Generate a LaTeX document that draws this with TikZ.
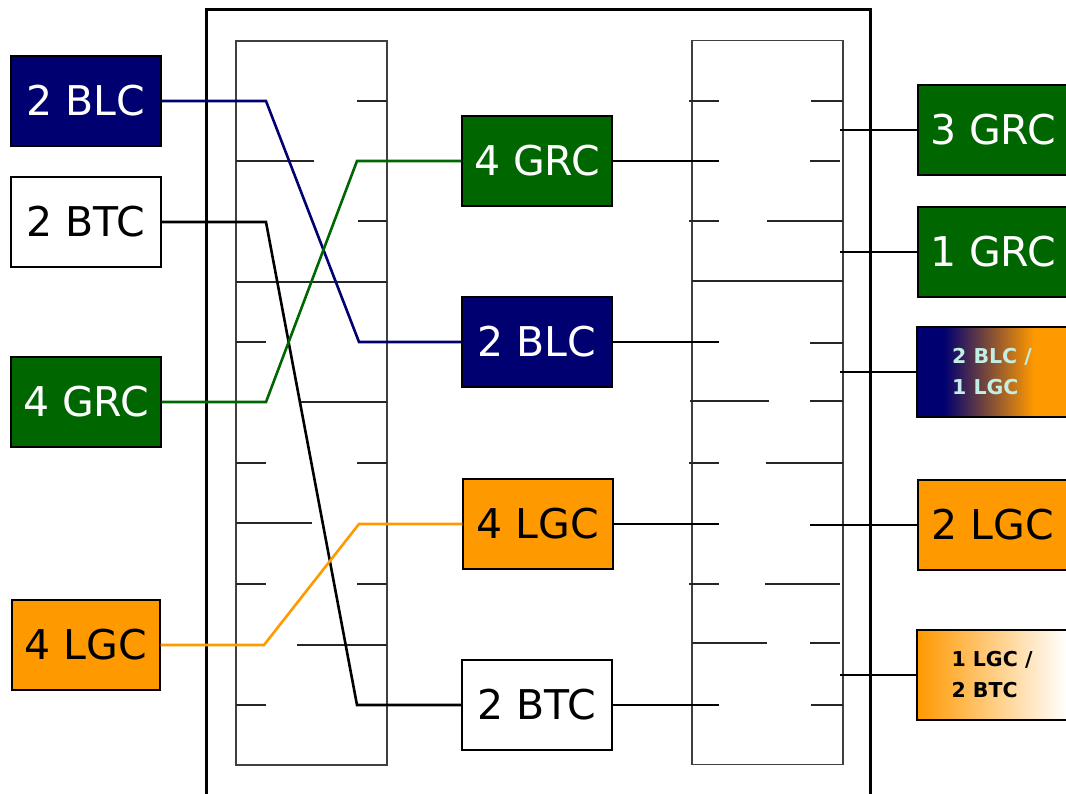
\documentclass[tikz,border=0pt]{standalone}
\usepackage{fontspec}
\setmainfont{DejaVu Sans}
\usepackage{tikz}
\usetikzlibrary{positioning}
\usepackage{xcolor}
\definecolor{blcblue}{RGB}{0,0,112}
\definecolor{grcgreen}{RGB}{0,102,0}
\definecolor{lgcorange}{RGB}{255,153,0}
\definecolor{mixtext}{RGB}{195,238,228}
\pgfdeclarehorizontalshading{blctolgc}{100bp}{color(0bp)=(blcblue); color(34bp)=(blcblue); color(64bp)=(lgcorange); color(100bp)=(lgcorange)}
\tikzset{
	unit/.style={rectangle, draw=black, line width=1.4pt,
		minimum width=150pt, minimum height=90pt, inner sep=0pt,
		font=\fontsize{41}{41}\selectfont},
	blc/.style={unit, fill=blcblue, text=white},
	grc/.style={unit, fill=grcgreen, text=white},
	lgc/.style={unit, fill=lgcorange, text=black},
	btc/.style={unit, fill=white, text=black},
	mixed/.style={unit, align=left,
		font=\bfseries\fontsize{20.5}{31}\selectfont},
	panel/.style={rectangle, draw=black!75, line width=1.3pt,
		minimum width=151pt, minimum height=724pt, inner sep=0pt},
	frame/.style={draw=black, line width=3pt},
	wire/.style={line width=2.6pt},
	tick/.style={draw=black!85, line width=1.3pt},
	link/.style={draw=black, line width=1.3pt}
}

\begin{document}
\begin{tikzpicture}[x=1pt, y=-1pt]
			\clip (0,0) rectangle (1066,794);
			
			%% outer frame and the two switch panels
			\draw[frame] (206,10) rectangle (870,820);
			\node[panel] (lpanel) at (311.5,403) {};
			\node[panel] (rpanel) at (767.5,402.5) {};
			
			%% left panel ticks
			\draw[tick] (357,101) -- (387,101) (236,161) -- (314,161)
			(358,221) -- (387,221) (236,282) -- (387,282)
			(236,342) -- (266,342) (301,402) -- (387,402)
			(236,463) -- (266,463) (357,463) -- (387,463)
			(236,523) -- (312,523) (236,584) -- (266,584)
			(357,584) -- (387,584) (297,645) -- (387,645)
			(236,705) -- (266,705);
			
			%% right panel ticks
			\draw[tick] (689,101) -- (719,101) (811,101) -- (843,101)
			(692,161) -- (719,161) (810,161) -- (840,161)
			(689,221) -- (719,221) (767,221) -- (843,221)
			(692,281) -- (843,281) (810,343) -- (843,343)
			(690,401) -- (769,401) (810,401) -- (843,401)
			(689,463) -- (719,463) (766,463) -- (843,463)
			(689,584) -- (719,584) (765,584) -- (840,584)
			(692,643) -- (767,643) (810,643) -- (840,643)
			(811,705) -- (843,705);
			
			%% input units
			\node[blc] (lblc) at (86,101) {2 BLC};
			\node[btc] (lbtc) at (86,222) {2 BTC};
			\node[grc] (lgrc) at (86,402) {4 GRC};
			\node[lgc, minimum width=148pt] (llgc) at (86,645) {4 LGC};
			
			%% middle units
			\node[grc] (mgrc) at (537,161) {4 GRC};
			\node[blc] (mblc) at (537,342) {2 BLC};
			\node[lgc] (mlgc) at (538,524) {4 LGC};
			\node[btc] (mbtc) at (537,705) {2 BTC};
			
			%% output units
			\node[grc] (rgrc3) at (993,130) {3 GRC};
			\node[grc] (rgrc1) at (993,252) {1 GRC};
			\node[mixed, shading=blctolgc, text=mixtext] (rmixa) at (992,372)
			{2 BLC /\\1 LGC};
			\node[mixed, left color=lgcorange, right color=white, text=black]
			(rmixb) at (992,675) {1 LGC /\\2 BTC};
			\node[lgc] (rlgc) at (993,525) {2 LGC};
			
			%% crossing wires
			\draw[wire, blcblue] (lblc) -- (266,101) -- (359,342) -- (mblc);
			\draw[wire, black] (lbtc) -- (266,222) -- (357,705) -- (mbtc);
			\draw[wire, grcgreen] (lgrc) -- (266,402) -- (357,161) -- (mgrc);
			\draw[wire, lgcorange] (llgc) -- (264,645) -- (359,524) -- (mlgc);
			
			%% thin links on the right
			\draw[link] (mgrc) -- (719,161);
			\draw[link] (mblc) -- (719,342);
			\draw[link] (mlgc) -- (719,524);
			\draw[link] (mbtc) -- (719,705);
			\draw[link] (840,130) -- (rgrc3);
			\draw[link] (840,252) -- (rgrc1);
			\draw[link] (840,372) -- (rmixa);
			\draw[link] (810,525) -- (rlgc);
			\draw[link] (840,675) -- (rmixb);
			
		\end{tikzpicture}
\end{document}
